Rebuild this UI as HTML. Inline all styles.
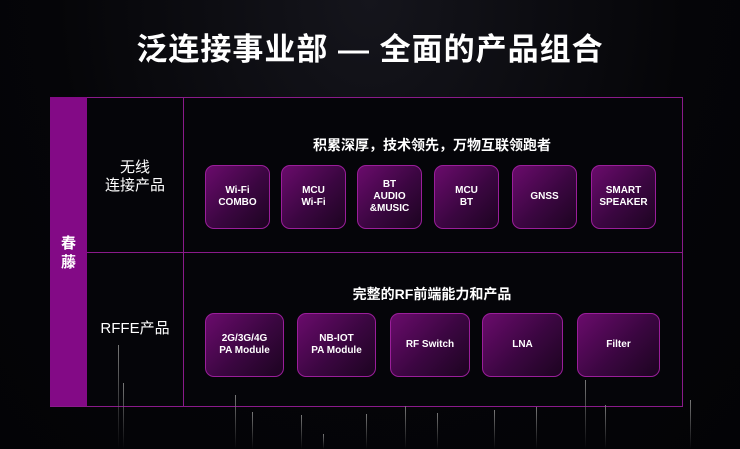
<!DOCTYPE html>
<html><head><meta charset="utf-8"><style>
body{margin:0;width:740px;height:449px;overflow:hidden;background:#040408;font-family:"Liberation Sans","Noto Sans CJK SC",sans-serif;position:relative;color:#fff}
.bg{position:absolute;inset:0;background:radial-gradient(ellipse at 50% 0%,#15151c 0%,#050508 60%,#030306 100%)}
.t{position:absolute;left:0;width:740px;top:24px;text-align:center;font-size:31px;font-weight:bold;letter-spacing:1px}
.frame{position:absolute;left:50px;top:97px;width:631px;height:308px;border:1px solid #8a1a8a;background:#050509}
.side{position:absolute;left:50px;top:97px;width:37px;height:309px;background:#830a86}
.side span{position:absolute;left:0;width:37px;top:137px;text-align:center;font-size:15px;font-weight:bold;line-height:19px}
.vl{position:absolute;left:183px;top:97px;width:1px;height:309px;background:#8a1a8a}
.hl{position:absolute;left:87px;top:252px;width:595px;height:1px;background:#8a1a8a}
.lab{position:absolute;text-align:center;font-size:15px;line-height:18px}
.h{position:absolute;font-size:14px;font-weight:bold;text-align:center}
.b{position:absolute;border:1.5px solid #9a1e9a;border-radius:9px;box-sizing:border-box;background:linear-gradient(135deg,#6a0b6c 0%,#3a0640 55%,#1c0420 100%);display:flex;align-items:center;justify-content:center;text-align:center;font-size:10px;font-weight:bold;line-height:12px}
.ln{position:absolute;width:1px;background:linear-gradient(#777,transparent)}
</style></head><body>
<div class="bg"></div>
<div class="t">泛连接事业部 — 全面的产品组合</div>
<div class="frame"></div>
<div class="side"><span>春<br>藤</span></div>
<div class="vl"></div><div class="hl"></div>
<div class="lab" style="left:87px;width:96px;top:159px">无线<br>连接产品</div>
<div class="lab" style="left:87px;width:96px;top:320px">RFFE产品</div>
<div class="h" style="left:183px;width:498px;top:135px">积累深厚，技术领先，万物互联领跑者</div>
<div class="h" style="left:183px;width:498px;top:284px">完整的RF前端能力和产品</div>
<div class="b" style="left:205px;top:165px;width:65px;height:64px">Wi-Fi<br>COMBO</div>
<div class="b" style="left:281px;top:165px;width:65px;height:64px">MCU<br>Wi-Fi</div>
<div class="b" style="left:357px;top:165px;width:65px;height:64px">BT<br>AUDIO<br>&amp;MUSIC</div>
<div class="b" style="left:434px;top:165px;width:65px;height:64px">MCU<br>BT</div>
<div class="b" style="left:512px;top:165px;width:65px;height:64px">GNSS</div>
<div class="b" style="left:591px;top:165px;width:65px;height:64px">SMART<br>SPEAKER</div>
<div class="b" style="left:205px;top:313px;width:79px;height:64px">2G/3G/4G<br>PA Module</div>
<div class="b" style="left:297px;top:313px;width:79px;height:64px">NB-IOT<br>PA Module</div>
<div class="b" style="left:390px;top:313px;width:80px;height:64px">RF Switch</div>
<div class="b" style="left:482px;top:313px;width:81px;height:64px">LNA</div>
<div class="b" style="left:577px;top:313px;width:83px;height:64px">Filter</div>
<div class="ln" style="left:118px;top:345px;height:104px"></div>
<div class="ln" style="left:123px;top:383px;height:66px"></div>
<div class="ln" style="left:235px;top:395px;height:54px"></div>
<div class="ln" style="left:252px;top:412px;height:37px"></div>
<div class="ln" style="left:301px;top:415px;height:34px"></div>
<div class="ln" style="left:323px;top:434px;height:15px"></div>
<div class="ln" style="left:366px;top:414px;height:35px"></div>
<div class="ln" style="left:405px;top:406px;height:43px"></div>
<div class="ln" style="left:437px;top:413px;height:36px"></div>
<div class="ln" style="left:494px;top:410px;height:39px"></div>
<div class="ln" style="left:536px;top:407px;height:42px"></div>
<div class="ln" style="left:585px;top:380px;height:69px"></div>
<div class="ln" style="left:605px;top:405px;height:44px"></div>
<div class="ln" style="left:690px;top:400px;height:49px"></div>
</body></html>
